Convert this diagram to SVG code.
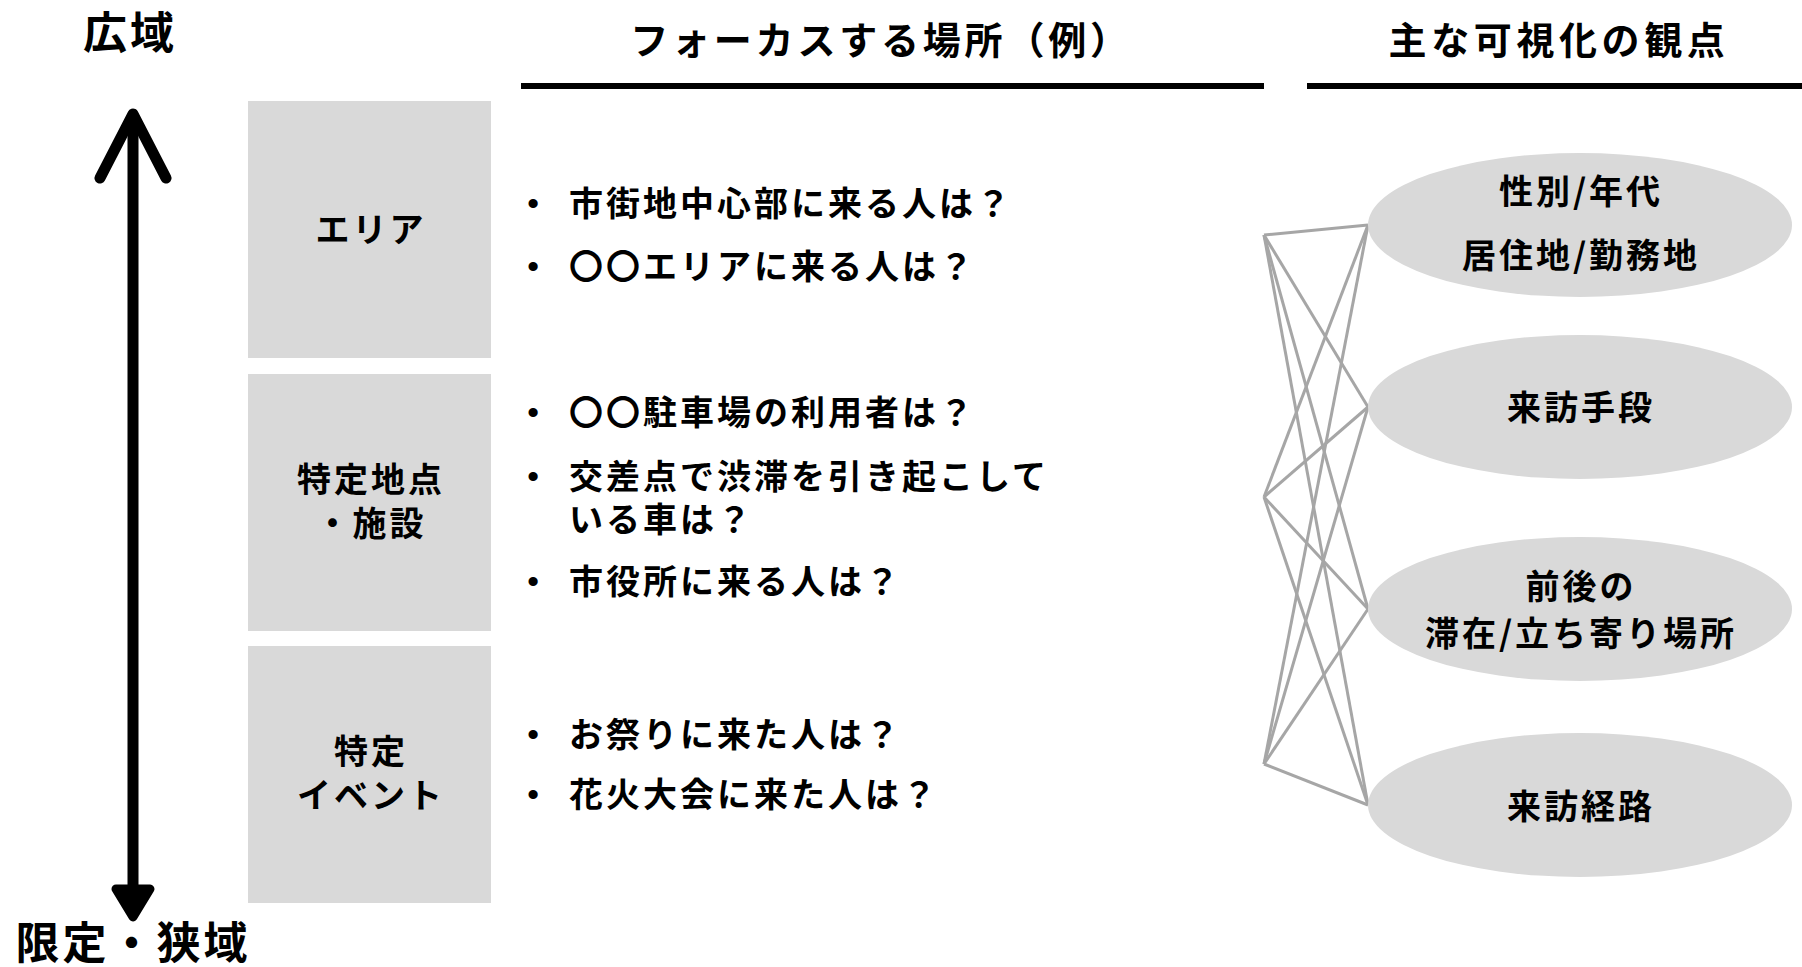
<svg xmlns="http://www.w3.org/2000/svg" width="1802" height="967" viewBox="0 0 1802 967">
<style>
text{font-family:"Noto Sans CJK JP","Noto Sans CJK SC",sans-serif;font-weight:700;fill:#000}
.big{font-size:44px;letter-spacing:3px}
.hdr{font-size:38px;letter-spacing:3.8px;text-anchor:middle}
.lbl{font-size:34px;letter-spacing:3px;text-anchor:middle}
.item{font-size:34px;letter-spacing:3px}
.bul{font-size:32px;text-anchor:middle;font-family:"Liberation Sans",sans-serif}
.box{fill:#d9d9d9}
.ell{fill:#d9d9d9}
.con line{stroke:#a6a6a6;stroke-width:3}
</style>
<g id="axis">
<text class="big" x="130" y="49" text-anchor="middle">広域</text>
<line x1="133" y1="120" x2="133" y2="900" stroke="#000" stroke-width="11"/>
<path d="M100,178 L133,114 L166,178" fill="none" stroke="#000" stroke-width="11" stroke-linecap="round" stroke-linejoin="round"/>
<path d="M116,889 L133,917 L150,889 Z" fill="#000" stroke="#000" stroke-width="9" stroke-linejoin="round"/>
<text class="big" x="133" y="959" text-anchor="middle">限定・狭域</text>
</g>
<g id="headers">
<text class="hdr" x="881" y="54">フォーカスする場所（例）</text>
<line x1="521" y1="86" x2="1264" y2="86" stroke="#000" stroke-width="6"/>
<text class="hdr" x="1559" y="54" style="letter-spacing:4.6px">主な可視化の観点</text>
<line x1="1307" y1="86" x2="1802" y2="86" stroke="#000" stroke-width="6"/>
</g>
<g id="box-area">
<rect class="box" x="248" y="101" width="243" height="257"/>
<text class="lbl" x="371" y="242">エリア</text>
</g>
<g id="box-point">
<rect class="box" x="248" y="374" width="243" height="257"/>
<text class="lbl" x="371" y="492">特定地点</text>
<text class="lbl" x="371" y="536">・施設</text>
</g>
<g id="box-event">
<rect class="box" x="248" y="646" width="243" height="257"/>
<text class="lbl" x="371" y="764">特定</text>
<text class="lbl" x="371" y="808">イベント</text>
</g>
<g id="items-area">
<text class="bul" x="533" y="214">•</text>
<text class="item" x="569" y="216">市街地中心部に来る人は？</text>
<text class="bul" x="533" y="277">•</text>
<text class="item" x="569" y="279">〇〇エリアに来る人は？</text>
</g>
<g id="items-point">
<text class="bul" x="533" y="423">•</text>
<text class="item" x="569" y="425">〇〇駐車場の利用者は？</text>
<text class="bul" x="533" y="487">•</text>
<text class="item" x="569" y="489">交差点で渋滞を引き起こして</text>
<text class="item" x="569" y="532">いる車は？</text>
<text class="bul" x="533" y="592">•</text>
<text class="item" x="569" y="594">市役所に来る人は？</text>
</g>
<g id="items-event">
<text class="bul" x="533" y="745">•</text>
<text class="item" x="569" y="747">お祭りに来た人は？</text>
<text class="bul" x="533" y="805">•</text>
<text class="item" x="569" y="807">花火大会に来た人は？</text>
</g>
<g class="con" id="connectors">
<line x1="1264" y1="235" x2="1368" y2="225"/>
<line x1="1264" y1="235" x2="1368" y2="407"/>
<line x1="1264" y1="235" x2="1368" y2="609"/>
<line x1="1264" y1="235" x2="1368" y2="805"/>
<line x1="1264" y1="497" x2="1368" y2="225"/>
<line x1="1264" y1="497" x2="1368" y2="407"/>
<line x1="1264" y1="497" x2="1368" y2="609"/>
<line x1="1264" y1="497" x2="1368" y2="805"/>
<line x1="1264" y1="764" x2="1368" y2="225"/>
<line x1="1264" y1="764" x2="1368" y2="407"/>
<line x1="1264" y1="764" x2="1368" y2="609"/>
<line x1="1264" y1="764" x2="1368" y2="805"/>
</g>
<g id="ell-attr">
<ellipse class="ell" cx="1580" cy="225" rx="212" ry="72"/>
<text class="lbl" x="1581" y="204">性別/年代</text>
<text class="lbl" x="1581" y="268">居住地/勤務地</text>
</g>
<g id="ell-means">
<ellipse class="ell" cx="1580" cy="407" rx="212" ry="72"/>
<text class="lbl" x="1581" y="420">来訪手段</text>
</g>
<g id="ell-stay">
<ellipse class="ell" cx="1580" cy="609" rx="212" ry="72"/>
<text class="lbl" x="1581" y="599">前後の</text>
<text class="lbl" x="1581" y="646">滞在/立ち寄り場所</text>
</g>
<g id="ell-route">
<ellipse class="ell" cx="1580" cy="805" rx="212" ry="72"/>
<text class="lbl" x="1581" y="819">来訪経路</text>
</g>
</svg>
